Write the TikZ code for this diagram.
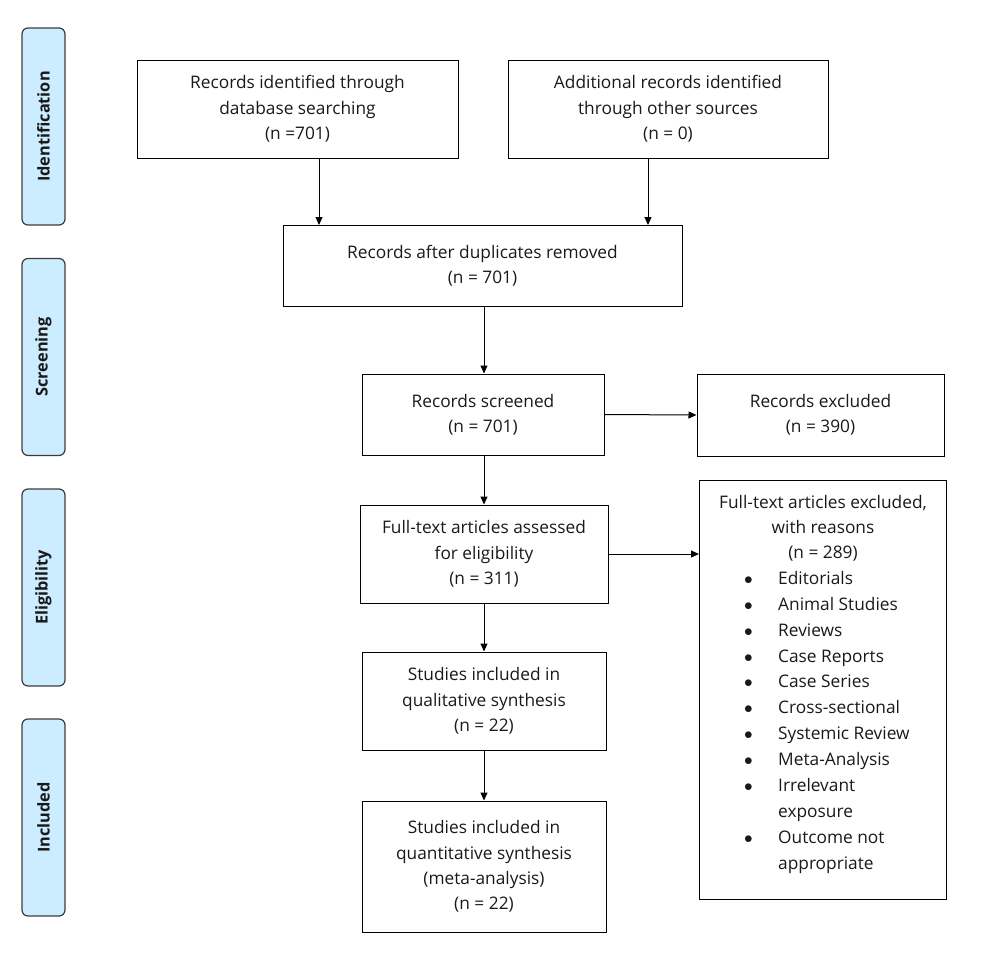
\documentclass[tikz,border=0pt]{standalone}
\usepackage{fontspec}
\setmainfont{Open Sans}
\usetikzlibrary{arrows.meta,calc}
\definecolor{sidefill}{RGB}{204,236,255}
\definecolor{sideline}{RGB}{60,60,60}
\definecolor{txt}{RGB}{25,25,25}
\begin{document}
\begin{tikzpicture}[x=1pt,y=-1pt,
  box/.style={draw, line width=1pt, align=center, inner sep=2pt, text=txt, font=\fontsize{17.3}{25.3}\selectfont},
  side/.style={draw=sideline, fill=sidefill, rounded corners=6pt, line width=1.2pt, minimum width=43pt, minimum height=197pt},
  sidetext/.style={rotate=90, text=txt, font=\fontsize{16.3}{18}\selectfont\bfseries},
  arr/.style={-{Triangle[length=8pt,width=7pt]}, line width=1pt}]
\useasboundingbox (0,0) rectangle (986,975);
% side labels
\node[side] (s1) at (43.5,126.5) {};
\node[sidetext] at (s1) {Identification};
\node[side] (s2) at (43.5,357) {};
\node[sidetext] at (s2) {Screening};
\node[side] (s3) at (43.5,587.5) {};
\node[sidetext] at (s3) {Eligibility};
\node[side] (s4) at (43.5,817.5) {};
\node[sidetext] at (s4) {Included};
% boxes
\node[box, minimum width=321pt, minimum height=98pt] (b1) at (297.5,109) {Records identified through\\database searching\\(n =701)};
\node[box, minimum width=320pt, minimum height=98pt] (b2) at (668,109) {Additional records identified\\through other sources\\(n = 0)};
\node[box, minimum width=399pt, minimum height=81pt] (b3) at (482.5,266) {Records after duplicates removed\\(n = 701)};
\node[box, minimum width=242pt, minimum height=81pt] (b4) at (483,414.5) {Records screened\\(n = 701)};
\node[box, minimum width=247pt, minimum height=82pt] (b5) at (820.5,415) {Records excluded\\(n = 390)};
\node[box, minimum width=248pt, minimum height=98pt] (b6) at (484,554) {Full-text articles assessed\\for eligibility\\(n = 311)};
\node[box, minimum width=247pt, minimum height=419pt, anchor=north west] (b7) at (699,480) {};
\node[anchor=north, inner sep=0pt, text=txt, font=\fontsize{17.3}{25.3}\selectfont, align=center] (b7t) at ($(b7.north)+(0,15)$) {Full-text articles excluded,\\with reasons\\(n = 289)};
\node[anchor=north west, inner sep=0pt, text=txt, font=\fontsize{17.3}{25.9}\selectfont, align=left] (b7l) at ($(b7.north west)+(45,91)$) {%
\makebox[34pt][l]{$\bullet$}Editorials\\
\makebox[34pt][l]{$\bullet$}Animal Studies\\
\makebox[34pt][l]{$\bullet$}Reviews\\
\makebox[34pt][l]{$\bullet$}Case Reports\\
\makebox[34pt][l]{$\bullet$}Case Series\\
\makebox[34pt][l]{$\bullet$}Cross-sectional\\
\makebox[34pt][l]{$\bullet$}Systemic Review\\
\makebox[34pt][l]{$\bullet$}Meta-Analysis\\
\makebox[34pt][l]{$\bullet$}Irrelevant\\
\makebox[34pt][l]{}exposure\\
\makebox[34pt][l]{$\bullet$}Outcome not\\
\makebox[34pt][l]{}appropriate};
\node[box, minimum width=244pt, minimum height=98pt] (b8) at (484,701) {Studies included in\\qualitative synthesis\\(n = 22)};
\node[box, minimum width=244pt, minimum height=131pt] (b9) at (484,866.5) {Studies included in\\quantitative synthesis\\(meta-analysis)\\(n = 22)};
% arrows
\coordinate (a1) at (319,0);
\coordinate (a2) at (648,0);
\coordinate (ac) at (484,0);
\draw[arr] (b1.south -| a1) -- (b3.north -| a1);
\draw[arr] (b2.south -| a2) -- (b3.north -| a2);
\draw[arr] (b3.south -| ac) -- (b4.north -| ac);
\draw[arr] (b4.south -| ac) -- (b6.north -| ac);
\draw[arr] (b6) -- (b8);
\draw[arr] (b8) -- (b9);
\draw[arr] (b4.east) -- (b5.west);
\draw[arr] (b6.east) -- (b6.east -| b7.west);
\end{tikzpicture}
\end{document}
